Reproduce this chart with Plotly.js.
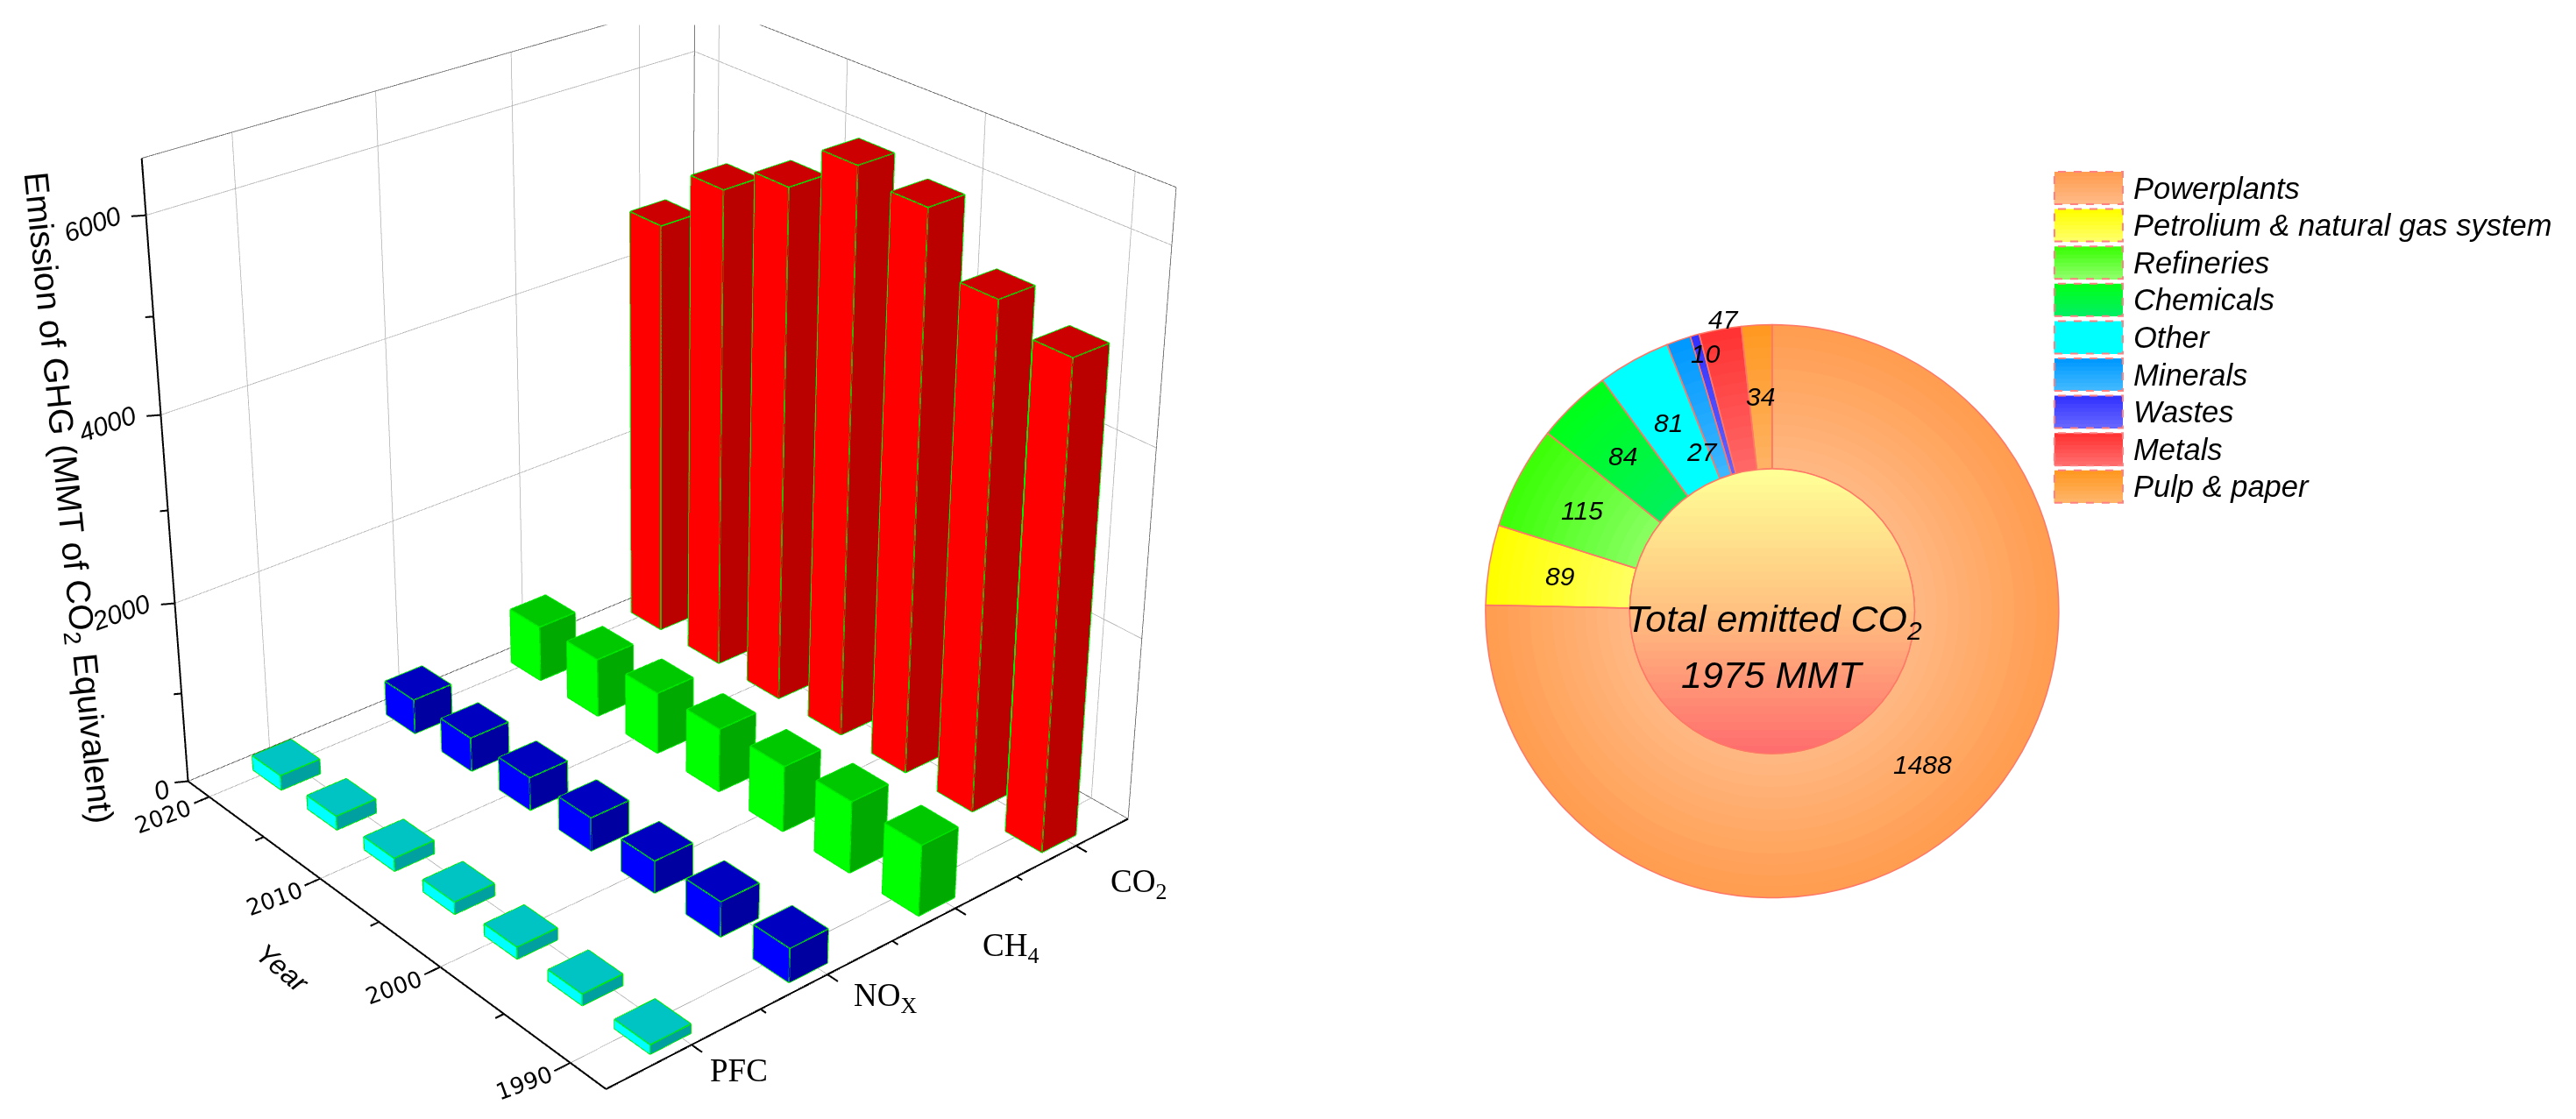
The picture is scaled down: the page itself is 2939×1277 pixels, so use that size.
<!DOCTYPE html>
<html><head><meta charset="utf-8">
<script src="https://cdn.plot.ly/plotly-3.0.1.min.js"></script>
<style>html,body{margin:0;padding:0;background:#fff;overflow:hidden}
#wrap{position:fixed;left:0;top:0;width:2939px;height:1277px;overflow:hidden}
#gd{position:absolute}</style></head><body>
<div id="wrap"><div id="gd"></div></div>
<script>
// ---------- data ----------
const years=[1990,1995,2000,2005,2010,2015,2020];
const gases=['PFC','NO<sub>X</sub>','CH<sub>4</sub>','CO<sub>2</sub>'];
const pfc=[100,125,130,135,145,155,165];
const nox=[370,385,355,370,370,380,390];
const ch4=[775,790,730,710,690,660,630];
const co2=[5180,5420,6010,6130,5620,5300,4620];
const sectors=['Powerplants','Petrolium & natural gas system','Refineries','Chemicals','Other','Minerals','Wastes','Metals','Pulp & paper'];
const emitted=[1488,89,115,84,81,27,10,47,34];
const yearTicks=[1990,2000,2010,2020];
const zTicks=[0,2000,4000,6000];
// ---------- style ----------
const S=3250, CX3=745.5, CY3=571.5;
const ox=S/2-CX3, oy=S/2-CY3, W=ox+2939+10, H=S;
const gd=document.getElementById('gd');
gd.style.left=(-ox)+'px'; gd.style.top=(-oy)+'px'; gd.style.width=W+'px'; gd.style.height=H+'px';
const px=x=>(x+ox)/W, py=y=>1-(y+oy)/H;
const xr=[-0.6,3.45], yr=[1987.4,2022], zr=[0,6550];
const P=1.2; // the scene range is padded so that ticks outside the box are not clipped
const pad=r=>{const c=(r[0]+r[1])/2,h=(r[1]-r[0])/2*P;return [c-h,c+h];};
const aspect={x:1.089,y:1.072,z:1.094};
const eyeDir={x:-0.573,y:-0.675,z:0.465},D=5.32;
const barColors=[['#00ffff','#009fa0','#00c4c4'],['#0000ff','#0000a0','#0000c0'],['#00ff00','#00aa00','#00c800'],['#ff0000','#bb0000','#cc0000']];
const series=[pfc,nox,ch4,co2];
const hx=0.145,hy=1.3,edge='#00ee00',barYearShift=-0.6,barCatShift=[-0.08,-0.07,-0.07,-0.06];
const traces=[];
const lineTrace=(arr,color,width)=>{const x=[],y=[],z=[];arr.forEach(a=>{x.push(a[0],a[3],null);y.push(a[1],a[4],null);z.push(a[2],a[5],null);});
  return {type:'scatter3d',mode:'lines',x,y,z,line:{color,width},hoverinfo:'skip',showlegend:false,connectgaps:false};};
const [x0,x1]=xr,[y0,y1]=yr,[z0,z1]=zr;
const catMajor=[0,1,2,3], catMinor=[0.5,1.5,2.5], yrMinor=[1995,2005,2015], zMinor=[1000,3000,5000];
// grid
const grid=[];
catMajor.forEach(c=>{grid.push([c,y0,z0,c,y1,z0],[c,y1,z0,c,y1,z1]);});
yearTicks.forEach(t=>{grid.push([x0,t,z0,x1,t,z0],[x1,t,z0,x1,t,z1]);});
zTicks.forEach(t=>{grid.push([x0,y1,t,x1,y1,t],[x1,y1,t,x1,y0,t]);});
traces.push(lineTrace(grid,'#b0b0b0',1.5));
const grey=[[x0,y1,z1,x1,y1,z1],[x1,y1,z1,x1,y0,z1],[x1,y1,z0,x1,y1,z1],[x1,y0,z0,x1,y0,z1],[x0,y1,z0,x1,y1,z0],[x1,y1,z0,x1,y0,z0]];
traces.push(lineTrace(grey,'#505050',1.5));
series.forEach((vals,s)=>{
  const X=[],Y=[],Z=[],I=[],J=[],K=[],F=[],e=[];
  vals.forEach((v,n)=>{
    const b=X.length,c=s+barCatShift[s],t=years[n]+barYearShift,a0=c-hx,a1=c+hx,b0=t-hy,b1=t+hy;
    const pts=[[a0,b0,0],[a1,b0,0],[a1,b1,0],[a0,b1,0],[a0,b0,v],[a1,b0,v],[a1,b1,v],[a0,b1,v]];
    pts.forEach(p=>{X.push(p[0]);Y.push(p[1]);Z.push(p[2]);});
    const quad=(q,r,d,f,col)=>{I.push(b+q,b+q);J.push(b+r,b+d);K.push(b+d,b+f);F.push(col,col);};
    quad(0,3,7,4,barColors[s][0]); // left face, x = a0
    quad(0,1,5,4,barColors[s][1]); // right face, y = b0
    quad(4,5,6,7,barColors[s][2]); // top
    [[3,0],[0,1],[3,7],[0,4],[1,5],[7,4],[4,5],[5,6],[6,7]].forEach(q=>e.push(pts[q[0]].concat(pts[q[1]])));
  });
  traces.push({type:'mesh3d',x:X,y:Y,z:Z,i:I,j:J,k:K,facecolor:F,flatshading:true,hoverinfo:'skip',showscale:false,
    lighting:{ambient:1,diffuse:0,specular:0,roughness:1,fresnel:0},lightposition:{x:0,y:0,z:1000}});
  traces.push(lineTrace(e,edge,3));
});
// axes as lines built from the ranges and ticks
const black=[[x0,y0,z0,x1,y0,z0],[x0,y0,z0,x0,y1,z0],[x0,y1,z0,x0,y1,z1]];
catMajor.forEach(c=>black.push([c,y0,z0,c,y0-0.75,z0]));
catMinor.forEach(c=>black.push([c,y0,z0,c,y0-0.4,z0]));
yearTicks.forEach(t=>black.push([x0,t,z0,x0-0.11,t,z0]));
yrMinor.forEach(t=>black.push([x0,t,z0,x0-0.06,t,z0]));
zTicks.forEach(t=>black.push([x0,y1,t,x0-0.07,y1+0.35,t]));
zMinor.forEach(t=>black.push([x0,y1,t,x0-0.04,y1+0.2,t]));
traces.push(lineTrace(black,'#000',4));

const ax=(range)=>({range:pad(range),autorange:false,showgrid:false,showline:false,zeroline:false,showticklabels:false,ticks:'',showbackground:false,showspikes:false,title:{text:''}});
const zFont={family:'Liberation Sans',size:30,color:'#000'};
const yrFont={family:'DejaVu Sans',size:26,color:'#000'};
const serif={family:'Liberation Serif',size:37,color:'#000'};
const sceneAnn=[];
const zLabelDx=[-14,-21,-21,-21];
zTicks.forEach((t,n)=>sceneAnn.push({x:x0,y:y1,z:t,text:'<i>'+t+'</i>',showarrow:false,textangle:-20,font:zFont,xanchor:'right',yanchor:'middle',xshift:zLabelDx[n],yshift:-10}));
yearTicks.forEach(t=>sceneAnn.push({x:x0,y:t,z:0,text:String(t),showarrow:false,textangle:-20,font:yrFont,xanchor:'center',yanchor:'middle',xshift:-53,yshift:-23}));
const catX=[19,28,29,37], catY=[29,26,45,43];
gases.forEach((g,c)=>sceneAnn.push({x:c,y:y0,z:0,text:g,showarrow:false,font:serif,xanchor:'left',yanchor:'middle',xshift:catX[c],yshift:-catY[c]}));

// ---------- donut ----------
const cx=2021,cy=697,R=327,holeF=0.497,N=14;
const outer=['#ff9d50','#ffff00','#3cff08','#00ff1a','#00ffff','#0099ff','#3333ff','#ff3333','#ff9922'];
const inner=['#ffb985','#ffff66','#8cff66','#00f060','#00ffff','#40b8ff','#6666ff','#ff6b6b','#ffb468'];
const hex=c=>[1,3,5].map(i=>parseInt(c.substr(i,2),16));
const mix=(a,b,t)=>{const A=hex(a),B=hex(b);return 'rgb('+A.map((v,i)=>Math.round(v+(B[i]-v)*t)).join(',')+')';};
for(let i=0;i<N;i++){
  const t=i/(N-1), r=R*(1-t*(1-holeF));
  traces.push({type:'pie',values:emitted,labels:sectors,sort:false,direction:'clockwise',rotation:0,textinfo:'none',hoverinfo:'skip',showlegend:false,
    domain:{x:[px(cx-r),px(cx+r)],y:[py(cy+r),py(cy-r)]},marker:{colors:outer.map((c,k)=>mix(c,inner[k],t)),line:{width:0}}});
}
traces.push({type:'pie',values:emitted,labels:sectors,sort:false,direction:'clockwise',rotation:0,hole:holeF,textinfo:'none',hoverinfo:'label+value',showlegend:false,
  domain:{x:[px(cx-R),px(cx+R)],y:[py(cy+R),py(cy-R)]},marker:{colors:sectors.map(()=>'rgba(0,0,0,0)'),line:{width:1.5,color:'#ff7766'}}});

const shapes=[];
const strips=36,rh=R*holeF;
for(let i=0;i<strips;i++){
  const t=i/(strips-1);
  const col=t<0.5?mix('#ffff96','#ffc080',t*2):mix('#ffc080','#ff6e6e',(t-0.5)*2);
  const a0=Math.acos(1-2*i/strips);let d='';
  for(let k=0;k<=60;k++){
    const a=a0+(2*Math.PI-2*a0)*k/60;
    d+=(k?'L':'M')+px(cx+rh*Math.sin(a)).toFixed(6)+','+py(cy-rh*Math.cos(a)).toFixed(6);
  }
  shapes.push({type:'path',xref:'paper',yref:'paper',path:d+'Z',fillcolor:col,line:{width:0},layer:'above'});
}
shapes.push({type:'circle',xref:'paper',yref:'paper',x0:px(cx-rh),x1:px(cx+rh),y0:py(cy+rh),y1:py(cy-rh),line:{color:'#ff7766',width:1.5},fillcolor:'rgba(0,0,0,0)',layer:'above'});
// top band of the reference is blank
shapes.push({type:'rect',xref:'paper',yref:'paper',x0:px(0),x1:px(1400),y0:py(28),y1:py(-5),fillcolor:'#fff',line:{width:0},layer:'above'});

// legend drawn to the reference's swatch size
const legX=2343,legW=78,legH=37,legTop=214,legStep=42.6;
sectors.forEach((name,n)=>{
  const yc=legTop+n*legStep,B=8;
  for(let b=0;b<B;b++){
    shapes.push({type:'rect',xref:'paper',yref:'paper',x0:px(legX),x1:px(legX+legW),y0:py(yc+legH/2),y1:py(yc-legH/2+b*legH/B),fillcolor:mix(outer[n],inner[n],b/(B-1)),line:{width:0},layer:'above'});
  }
  shapes.push({type:'rect',xref:'paper',yref:'paper',x0:px(legX),x1:px(legX+legW),y0:py(yc+legH/2),y1:py(yc-legH/2),fillcolor:'rgba(0,0,0,0)',line:{color:'#ff8080',width:2,dash:'dash'},layer:'above'});
});

const anns=[];
const pa=(x,y,text,size,extra)=>anns.push(Object.assign({xref:'paper',yref:'paper',x:px(x),y:py(y),xanchor:'center',yanchor:'middle',text,showarrow:false,font:{family:'Liberation Sans',size,color:'#000'}},extra||{}));
sectors.forEach((name,n)=>pa(2431,legTop+n*legStep,'<i>'+name+'</i>',34.5,{xanchor:'left'}));
const labelDx=[0,0,0,0,0,0,-10,-11,0], labelDy=[0,0,0,0,0,50,-58,-92,0];
let cum=0;
emitted.forEach((v,n)=>{
  const th=(cum+v/2)/1975*2*Math.PI;cum+=v;
  pa(cx+0.75*R*Math.sin(th)+labelDx[n],cy-0.75*R*Math.cos(th)+labelDy[n],'<i>'+v+'</i>',30);
});
pa(2023,708,'<i>Total emitted CO<sub>2</sub></i>',43);
pa(2021,770,'<i>1975 MMT</i>',43);
pa(75,568,'Emission of GHG (MMT of CO<sub>2</sub> Equivalent)',39,{textangle:84.2});
pa(322,1104,'<i>Year</i>',32,{textangle:40});

const layout={width:W,height:H,margin:{l:0,r:0,t:0,b:0},paper_bgcolor:'#fff',showlegend:false,
  scene:{domain:{x:[0,S/W],y:[0,1]},aspectmode:'manual',aspectratio:{x:aspect.x*P,y:aspect.y*P,z:aspect.z*P},
    camera:{projection:{type:'perspective'},up:{x:0,y:0,z:1},center:{x:0,y:0,z:0},eye:{x:eyeDir.x*D,y:eyeDir.y*D,z:eyeDir.z*D}},
    xaxis:ax(xr),yaxis:ax(yr),zaxis:ax(zr),annotations:sceneAnn},
  shapes,annotations:anns};
Plotly.newPlot(gd,traces,layout,{displayModeBar:false,plotGlPixelRatio:1});
</script></body></html>
